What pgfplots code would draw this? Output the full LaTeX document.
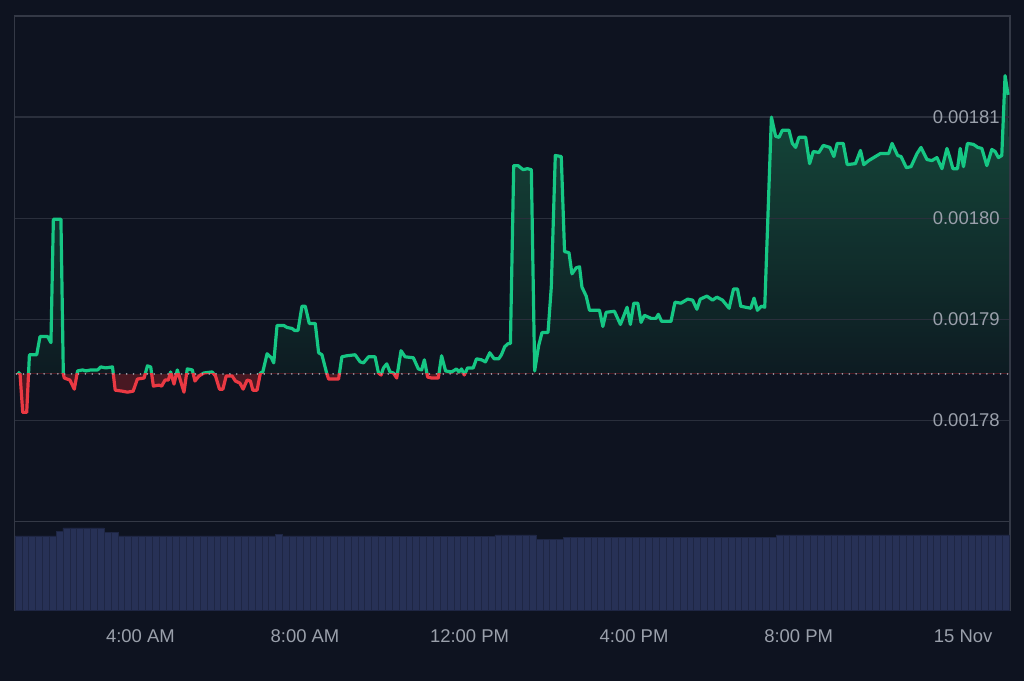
\documentclass[border=0pt]{standalone}
\usepackage{fontspec}
\setmainfont{Liberation Sans}
\usepackage{xcolor}
\usepackage{pgfplots}
\pgfplotsset{compat=1.18}
\usepgfplotslibrary{fillbetween}
\usepackage{pgfplotstable}

\definecolor{bg}{RGB}{14,19,32}
\definecolor{framecol}{RGB}{52,57,70}
\definecolor{gridcol}{RGB}{42,47,60}
\definecolor{up}{RGB}{22,199,132}
\definecolor{down}{RGB}{234,57,67}
\definecolor{uptop}{RGB}{24,84,67}
\definecolor{upbot}{RGB}{14,24,34}
\definecolor{downfill}{RGB}{72,24,34}
\definecolor{volcol}{RGB}{39,49,86}
\definecolor{voledge}{RGB}{30,38,68}
\definecolor{labelcol}{RGB}{154,160,171}

% price: time in hours since midnight 14 Nov, price
\pgfplotstableread{
t p
1.018 0.0017848
1.074 0.0017846
1.139 0.0017808
1.236 0.0017808
1.302 0.0017865
1.479 0.0017865
1.559 0.0017883
1.745 0.0017883
1.825 0.0017877
1.884 0.0017999
2.068 0.0017999
2.126 0.0017846
2.150 0.0017842
2.286 0.0017840
2.393 0.0017831
2.473 0.0017849
2.594 0.0017850
2.674 0.0017849
2.795 0.0017850
2.958 0.0017850
3.038 0.0017853
3.159 0.0017852
3.321 0.0017853
3.387 0.0017830
3.564 0.0017829
3.685 0.0017828
3.823 0.0017829
3.927 0.0017841
4.090 0.0017842
4.170 0.0017854
4.250 0.0017853
4.315 0.0017834
4.453 0.0017835
4.516 0.0017834
4.599 0.0017840
4.679 0.0017840
4.734 0.0017848
4.817 0.0017836
4.897 0.0017850
4.977 0.0017839
5.059 0.0017828
5.139 0.0017851
5.261 0.0017850
5.326 0.0017839
5.423 0.0017844
5.544 0.0017847
5.745 0.0017848
5.825 0.0017844
5.922 0.0017831
6.005 0.0017831
6.085 0.0017844
6.230 0.0017844
6.310 0.0017839
6.417 0.0017837
6.497 0.0017831
6.594 0.0017840
6.674 0.0017839
6.732 0.0017830
6.836 0.0017830
6.916 0.0017847
6.975 0.0017848
7.079 0.0017866
7.183 0.0017862
7.241 0.0017857
7.321 0.0017894
7.484 0.0017894
7.564 0.0017892
7.685 0.0017891
7.750 0.0017889
7.830 0.0017889
7.927 0.0017913
8.007 0.0017913
8.104 0.0017896
8.250 0.0017896
8.332 0.0017867
8.412 0.0017865
8.533 0.0017846
8.575 0.0017841
8.817 0.0017841
8.897 0.0017863
9.018 0.0017864
9.219 0.0017865
9.341 0.0017858
9.423 0.0017857
9.544 0.0017863
9.704 0.0017863
9.787 0.0017847
9.850 0.0017845
9.908 0.0017852
9.988 0.0017856
10.068 0.0017848
10.150 0.0017847
10.230 0.0017842
10.335 0.0017869
10.432 0.0017863
10.635 0.0017862
10.756 0.0017851
10.836 0.0017850
10.902 0.0017860
10.982 0.0017843
11.079 0.0017842
11.241 0.0017842
11.321 0.0017864
11.418 0.0017849
11.564 0.0017848
11.685 0.0017851
11.741 0.0017848
11.806 0.0017851
11.872 0.0017845
11.952 0.0017852
12.090 0.0017852
12.170 0.0017861
12.291 0.0017860
12.388 0.0017858
12.492 0.0017867
12.599 0.0017861
12.710 0.0017861
12.776 0.0017865
12.856 0.0017873
12.938 0.0017876
12.994 0.0017876
13.074 0.0018052
13.181 0.0018052
13.302 0.0018048
13.406 0.0018049
13.503 0.0018048
13.583 0.0017849
13.680 0.0017874
13.762 0.0017887
13.908 0.0017887
13.988 0.0017932
14.085 0.0018062
14.230 0.0018061
14.310 0.0017967
14.417 0.0017966
14.490 0.0017945
14.594 0.0017951
14.674 0.0017952
14.732 0.0017932
14.836 0.0017923
14.916 0.0017909
15.159 0.0017909
15.241 0.0017893
15.321 0.0017907
15.522 0.0017908
15.668 0.0017895
15.830 0.0017912
15.910 0.0017895
15.993 0.0017916
16.090 0.0017916
16.170 0.0017897
16.250 0.0017904
16.412 0.0017901
16.533 0.0017901
16.589 0.0017905
16.671 0.0017898
16.897 0.0017898
16.994 0.0017917
17.139 0.0017916
17.302 0.0017920
17.423 0.0017919
17.527 0.0017910
17.607 0.0017920
17.770 0.0017923
17.908 0.0017919
18.012 0.0017922
18.150 0.0017919
18.310 0.0017911
18.417 0.0017930
18.514 0.0017930
18.594 0.0017913
18.836 0.0017911
18.916 0.0017921
18.999 0.0017909
19.096 0.0017913
19.176 0.0017912
19.338 0.0018100
19.442 0.0018081
19.522 0.0018080
19.605 0.0018087
19.765 0.0018087
19.847 0.0018074
19.927 0.0018070
20.007 0.0018080
20.170 0.0018080
20.267 0.0018054
20.356 0.0018066
20.492 0.0018065
20.599 0.0018072
20.759 0.0018070
20.856 0.0018061
20.938 0.0018074
21.084 0.0018074
21.181 0.0018053
21.382 0.0018054
21.503 0.0018067
21.583 0.0018053
21.704 0.0018057
21.867 0.0018061
21.988 0.0018064
22.189 0.0018064
22.271 0.0018074
22.407 0.0018062
22.490 0.0018061
22.618 0.0018050
22.732 0.0018051
22.878 0.0018064
22.975 0.0018070
23.120 0.0018058
23.241 0.0018057
23.362 0.0018060
23.484 0.0018049
23.605 0.0018069
23.668 0.0018061
23.750 0.0018049
23.862 0.0018049
23.927 0.0018069
24.007 0.0018051
24.104 0.0018074
24.250 0.0018073
24.356 0.0018070
24.453 0.0018069
24.575 0.0018052
24.696 0.0018068
24.776 0.0018066
24.856 0.0018060
24.938 0.0018062
25.018 0.0018141
25.091 0.0018122
}\price

% volume, one value per 10-minute bar (last row closes the interval)
\pgfplotstableread[row sep=\\]{
v\\84\\84\\84\\84\\84\\84\\89\\93\\93\\93\\93\\93\\93\\88\\88\\
84\\84\\84\\84\\84\\84\\84\\84\\84\\84\\84\\84\\84\\84\\84\\84\\84\\84\\84\\84\\84\\84\\84\\
86\\84\\84\\84\\84\\84\\84\\84\\84\\84\\84\\84\\84\\84\\84\\
83\\83\\83\\83\\83\\83\\83\\83\\83\\83\\83\\83\\83\\83\\83\\83\\83\\
85\\85\\85\\85\\85\\85\\80\\80\\80\\80\\
82\\82\\82\\82\\82\\82\\82\\82\\82\\82\\82\\82\\82\\82\\82\\82\\82\\82\\82\\82\\82\\82\\82\\82\\82\\82\\82\\82\\82\\82\\82\\
85\\85\\85\\85\\85\\85\\85\\85\\85\\85\\85\\85\\85\\85\\85\\85\\85\\85\\85\\85\\85\\85\\85\\85\\85\\85\\85\\85\\85\\85\\85\\85\\85\\85\\85\\
}\vol

% opening price (raw) and the same in axis units (price x 1e5)
\def\baseprice{0.0017846}
\def\base{178.46}

\pgfplotsset{
  common/.style={
    scale only axis, width=998pt,
    xmin=0.945, xmax=25.139,
    anchor=south west,
  },
  % prices are plotted in units of 1e-5 to keep the axis range workable
  priceaxis/.style={common, y filter/.expression={y*100000}},
}

\begin{document}
% page colour instead of a filled rectangle, so the fill-between layer stays visible
\pagecolor{bg}
\begin{tikzpicture}

% price frame, grid and labels
\begin{axis}[priceaxis, at={(12pt,160pt)}, height=507pt,
    ymin=177, ymax=182,
    xtick=\empty,
    ytick={178,179,180,181},
    yticklabels={0.00178,0.00179,0.00180,0.00181},
    yticklabel pos=right,
    major tick length=0pt,
    ymajorgrids,
    grid style={gridcol, line width=1.3pt},
    axis line style={framecol, line width=1.3pt},
    yticklabel style={anchor=east, xshift=-7pt, text=labelcol,
      font=\fontsize{18.5}{22}\selectfont},
    /pgf/number format/assume math mode=true,
]
\addplot[draw=none] coordinates {(1,0.00178)};
\end{axis}

% area and line above the opening price (the axis box clips at the opening price)
\begin{axis}[priceaxis, at={(12pt,308pt)}, height=359pt,
    ymin=\base, ymax=182, hide axis]
\addplot[draw=none, name path=p] table[x=t, y=p] {\price};
\addplot[draw=none, name path=b] coordinates {(0.9,\baseprice) (25.2,\baseprice)};
\addplot[draw=none, top color=uptop, bottom color=upbot, fill opacity=0.9]
  fill between[of=p and b];
\addplot[up, line width=3.2pt, line join=round] table[x=t, y=p] {\price};
\end{axis}

% area and line below the opening price
\begin{axis}[priceaxis, at={(12pt,160pt)}, height=148pt,
    ymin=177, ymax=\base, hide axis]
\addplot[draw=none, name path=p] table[x=t, y=p] {\price};
\addplot[draw=none, name path=b] coordinates {(0.9,\baseprice) (25.2,\baseprice)};
\addplot[draw=none, fill=downfill] fill between[of=p and b];
\addplot[down, line width=3.2pt, line join=round] table[x=t, y=p] {\price};
\end{axis}

% dotted opening price line
\begin{axis}[priceaxis, at={(12pt,160pt)}, height=507pt,
    ymin=177, ymax=182, hide axis, clip=false]
\addplot[labelcol!90, line width=1.8pt, line cap=round,
  dash pattern=on 0pt off 6.9pt]
  coordinates {(0.99,\baseprice) (25.13,\baseprice)};
\end{axis}

% volume
\begin{axis}[common, at={(12pt,71pt)}, height=89pt,
    ymin=0, ymax=100,
    ytick=\empty,
    xtick={4,8,12,16,20,24},
    xticklabels={4:00 AM,8:00 AM,12:00 PM,4:00 PM,8:00 PM,15 Nov},
    major tick length=0pt,
    axis line style={framecol, line width=1.3pt},
    xticklabel style={text=labelcol, font=\fontsize{18.5}{22}\selectfont,
      yshift=-16pt},
]
\addplot[ybar interval, fill=volcol, draw=voledge, line width=0.5pt]
  table[x expr=0.95+\coordindex/6, y=v] {\vol};
\end{axis}

\pgfresetboundingbox
\path (0pt,0pt) rectangle (1024pt,683pt);
\end{tikzpicture}
\end{document}
